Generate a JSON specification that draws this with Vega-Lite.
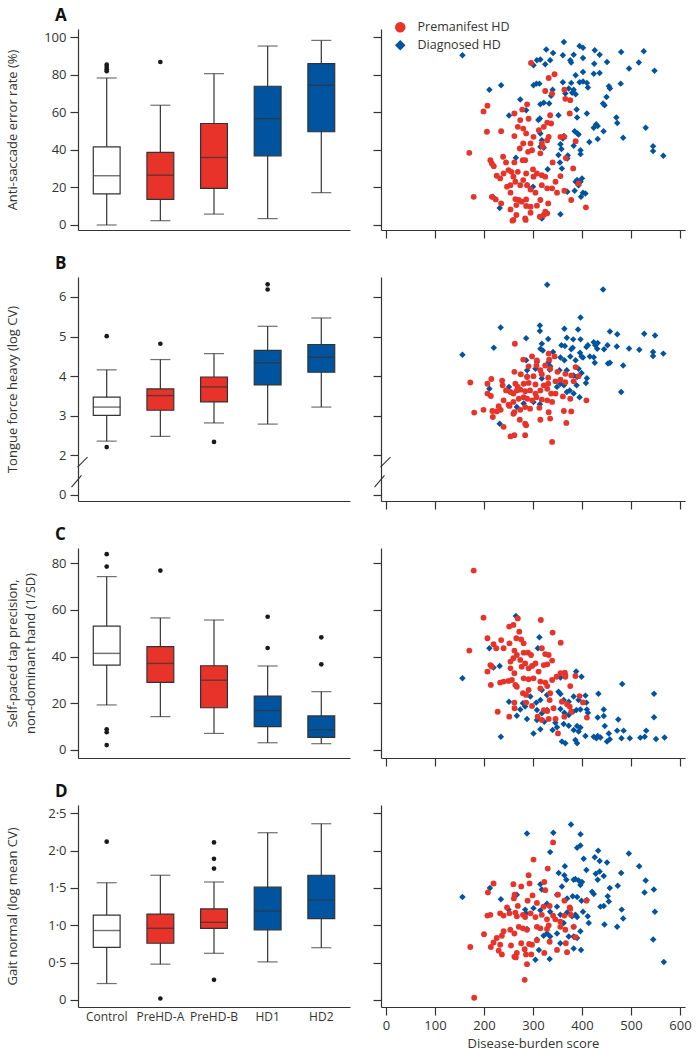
{
"$schema": "https://vega.github.io/schema/vega-lite/v6.json",
"padding": {"left": 5, "top": 7, "right": 5, "bottom": 4},
"bounds": "flush",
"align": "each",
"columns": 2,
"spacing": {"row": 47, "column": 31},
"datasets": {
"box": [
{"panel":"A","group":"Control","stage":"Control","lo":0,"q1":16.6,"med":26.2,"q3":41.6,"hi":78.2},
{"panel":"A","group":"PreHD-A","stage":"Premanifest","lo":2.3,"q1":13.6,"med":26.5,"q3":38.6,"hi":63.7},
{"panel":"A","group":"PreHD-B","stage":"Premanifest","lo":5.8,"q1":19.5,"med":35.9,"q3":54,"hi":80.5},
{"panel":"A","group":"HD1","stage":"Diagnosed","lo":3.4,"q1":36.8,"med":56.6,"q3":73.8,"hi":95.2},
{"panel":"A","group":"HD2","stage":"Diagnosed","lo":17.2,"q1":49.6,"med":74.3,"q3":85.8,"hi":98.2},
{"panel":"B","group":"Control","stage":"Control","lo":2.36,"q1":3.01,"med":3.22,"q3":3.47,"hi":4.16},
{"panel":"B","group":"PreHD-A","stage":"Premanifest","lo":2.48,"q1":3.14,"med":3.51,"q3":3.68,"hi":4.42},
{"panel":"B","group":"PreHD-B","stage":"Premanifest","lo":2.82,"q1":3.35,"med":3.73,"q3":3.98,"hi":4.57},
{"panel":"B","group":"HD1","stage":"Diagnosed","lo":2.79,"q1":3.78,"med":4.34,"q3":4.65,"hi":5.26},
{"panel":"B","group":"HD2","stage":"Diagnosed","lo":3.22,"q1":4.10,"med":4.48,"q3":4.80,"hi":5.47},
{"panel":"C","group":"Control","stage":"Control","lo":19.3,"q1":36.4,"med":41.4,"q3":53.1,"hi":74.3},
{"panel":"C","group":"PreHD-A","stage":"Premanifest","lo":14.3,"q1":29,"med":37.1,"q3":44.3,"hi":56.6},
{"panel":"C","group":"PreHD-B","stage":"Premanifest","lo":7.1,"q1":18.1,"med":29.9,"q3":36.1,"hi":55.7},
{"panel":"C","group":"HD1","stage":"Diagnosed","lo":3.1,"q1":10,"med":16.9,"q3":23.1,"hi":36},
{"panel":"C","group":"HD2","stage":"Diagnosed","lo":2.7,"q1":5.4,"med":8.6,"q3":14.6,"hi":25},
{"panel":"D","group":"Control","stage":"Control","lo":0.22,"q1":0.705,"med":0.93,"q3":1.135,"hi":1.57},
{"panel":"D","group":"PreHD-A","stage":"Premanifest","lo":0.48,"q1":0.76,"med":0.96,"q3":1.15,"hi":1.67},
{"panel":"D","group":"PreHD-B","stage":"Premanifest","lo":0.625,"q1":0.96,"med":1.04,"q3":1.22,"hi":1.58},
{"panel":"D","group":"HD1","stage":"Diagnosed","lo":0.51,"q1":0.94,"med":1.19,"q3":1.51,"hi":2.24},
{"panel":"D","group":"HD2","stage":"Diagnosed","lo":0.70,"q1":1.09,"med":1.34,"q3":1.67,"hi":2.36}
],
"out": [
{"panel":"A","group":"Control","value":85.3},{"panel":"A","group":"Control","value":84.1},{"panel":"A","group":"Control","value":82.8},{"panel":"A","group":"Control","value":81.8},{"panel":"A","group":"PreHD-A","value":86.7},
{"panel":"B","group":"Control","value":5.01},{"panel":"B","group":"Control","value":2.21},{"panel":"B","group":"PreHD-A","value":4.82},{"panel":"B","group":"PreHD-B","value":2.34},{"panel":"B","group":"HD1","value":6.32},{"panel":"B","group":"HD1","value":6.19},
{"panel":"C","group":"Control","value":83.9},{"panel":"C","group":"Control","value":78.6},{"panel":"C","group":"Control","value":8.9},{"panel":"C","group":"Control","value":7.6},{"panel":"C","group":"Control","value":2.1},{"panel":"C","group":"PreHD-A","value":76.9},{"panel":"C","group":"HD1","value":57.1},{"panel":"C","group":"HD1","value":43.7},{"panel":"C","group":"HD2","value":48.3},{"panel":"C","group":"HD2","value":36.7},
{"panel":"D","group":"Control","value":2.12},{"panel":"D","group":"PreHD-A","value":0.02},{"panel":"D","group":"PreHD-B","value":2.11},{"panel":"D","group":"PreHD-B","value":1.89},{"panel":"D","group":"PreHD-B","value":1.76},{"panel":"D","group":"PreHD-B","value":0.27}
],
"breaks": [
{"segment":"upper","y1":1.705,"y2":1.957},
{"segment":"lower","y1":1.20,"y2":1.495}
],
"A_pre": [
{"score":296,"value":86.2},{"score":344,"value":80.2},{"score":332,"value":78.2},{"score":325,"value":71.3},{"score":339,"value":69.9},{"score":364,"value":72},{"score":366,"value":67.1},{"score":376,"value":66.4},{"score":207,"value":63.5},{"score":199,"value":60.4},{"score":288,"value":64.2},{"score":278,"value":61.4},{"score":262,"value":59.3},{"score":291,"value":56.5},{"score":274,"value":55.8},{"score":335,"value":58.4},{"score":375,"value":59.3},{"score":269,"value":52.2},{"score":280,"value":51.3},{"score":322,"value":52.2},{"score":329,"value":54.5},{"score":337,"value":54},{"score":206,"value":49.6},{"score":235,"value":49.9},{"score":286,"value":48.7},{"score":312,"value":50.4},{"score":262,"value":47.3},{"score":301,"value":46.9},{"score":318,"value":43.4},{"score":332,"value":46.9},{"score":329,"value":45.1},{"score":280,"value":43.4},{"score":295,"value":43.4},{"score":356,"value":46.9},{"score":364,"value":46.9},{"score":387,"value":44.6},{"score":170,"value":38.4},{"score":273,"value":40.7},{"score":290,"value":38.9},{"score":298,"value":39.8},{"score":315,"value":38.1},{"score":320,"value":41.6},{"score":239,"value":36.3},{"score":213,"value":34.5},{"score":216,"value":32.7},{"score":220,"value":31.3},{"score":245,"value":33.3},{"score":262,"value":33.3},{"score":279,"value":34.5},{"score":284,"value":34.5},{"score":340,"value":33.3},{"score":367,"value":35.6},{"score":250,"value":29.2},{"score":256,"value":28.3},{"score":269,"value":28.3},{"score":286,"value":27.4},{"score":300,"value":29.6},{"score":308,"value":27.4},{"score":356,"value":26},{"score":382,"value":30.1},{"score":226,"value":26.2},{"score":233,"value":24.8},{"score":240,"value":27.4},{"score":260,"value":25.7},{"score":264,"value":23},{"score":280,"value":23.9},{"score":301,"value":25.7},{"score":318,"value":26.5},{"score":325,"value":25.7},{"score":346,"value":23},{"score":247,"value":20.4},{"score":254,"value":21.2},{"score":274,"value":21.2},{"score":288,"value":21.2},{"score":295,"value":18.9},{"score":305,"value":17.2},{"score":318,"value":21.2},{"score":329,"value":19.5},{"score":339,"value":19.5},{"score":349,"value":17.2},{"score":364,"value":18.2},{"score":393,"value":22.1},{"score":179,"value":15},{"score":216,"value":15},{"score":224,"value":13.6},{"score":254,"value":17.2},{"score":264,"value":13.8},{"score":271,"value":13.3},{"score":277,"value":12.4},{"score":286,"value":13.6},{"score":315,"value":13.3},{"score":331,"value":11.5},{"score":378,"value":13.3},{"score":235,"value":11.5},{"score":254,"value":8.3},{"score":266,"value":10.6},{"score":286,"value":10.1},{"score":295,"value":9.7},{"score":308,"value":10.3},{"score":325,"value":7.1},{"score":408,"value":9.4},{"score":266,"value":5.3},{"score":260,"value":2.7},{"score":284,"value":3.5},{"score":295,"value":6.5},{"score":314,"value":4.4},{"score":329,"value":6.2},{"score":258,"value":2.3},{"score":285,"value":2.7},{"score":322,"value":5.3}
],
"A_diag": [
{"score":156,"value":90.3},{"score":363,"value":97.3},{"score":395,"value":95.2},{"score":402,"value":94.3},{"score":327,"value":93.3},{"score":341,"value":91.5},{"score":361,"value":90.3},{"score":383,"value":90.6},{"score":426,"value":92.9},{"score":436,"value":90.6},{"score":480,"value":92},{"score":526,"value":92.4},{"score":308,"value":87.6},{"score":315,"value":88},{"score":301,"value":85},{"score":325,"value":85.5},{"score":335,"value":87.6},{"score":376,"value":87.6},{"score":378,"value":86.5},{"score":402,"value":88.8},{"score":425,"value":85.8},{"score":451,"value":86.7},{"score":516,"value":86.5},{"score":496,"value":83.2},{"score":548,"value":82.1},{"score":402,"value":81.4},{"score":387,"value":79.6},{"score":424,"value":80.5},{"score":436,"value":80.9},{"score":301,"value":74.3},{"score":307,"value":75.2},{"score":313,"value":75.2},{"score":361,"value":75.9},{"score":378,"value":75.6},{"score":395,"value":75.9},{"score":402,"value":76.3},{"score":410,"value":75.6},{"score":412,"value":73.1},{"score":479,"value":75.2},{"score":455,"value":73.8},{"score":457,"value":72.6},{"score":211,"value":72},{"score":235,"value":74.3},{"score":340,"value":72},{"score":366,"value":69.9},{"score":373,"value":72.6},{"score":383,"value":72},{"score":380,"value":70.3},{"score":387,"value":69.6},{"score":337,"value":68.8},{"score":274,"value":66.8},{"score":286,"value":61.1},{"score":315,"value":64.2},{"score":322,"value":65},{"score":333,"value":64.6},{"score":450,"value":68.1},{"score":443,"value":64.6},{"score":446,"value":63.7},{"score":251,"value":58.2},{"score":314,"value":56.6},{"score":311,"value":55.8},{"score":352,"value":58.4},{"score":389,"value":61.4},{"score":410,"value":59.3},{"score":390,"value":57.2},{"score":470,"value":57.2},{"score":472,"value":54.3},{"score":429,"value":53.6},{"score":432,"value":52.6},{"score":424,"value":51.7},{"score":444,"value":49.9},{"score":530,"value":51.7},{"score":315,"value":48.7},{"score":318,"value":45.1},{"score":363,"value":47.3},{"score":361,"value":46},{"score":385,"value":49.9},{"score":391,"value":48.7},{"score":393,"value":48.1},{"score":415,"value":44.2},{"score":432,"value":45.7},{"score":484,"value":46.4},{"score":315,"value":41.6},{"score":322,"value":41.1},{"score":356,"value":43},{"score":358,"value":40.4},{"score":383,"value":42.1},{"score":397,"value":39.8},{"score":397,"value":37.7},{"score":545,"value":41.9},{"score":545,"value":39.3},{"score":566,"value":36.8},{"score":265,"value":35.8},{"score":352,"value":37.2},{"score":355,"value":33.3},{"score":371,"value":37},{"score":370,"value":35.4},{"score":330,"value":29.6},{"score":359,"value":30.1},{"score":390,"value":23.9},{"score":400,"value":24.8},{"score":387,"value":23},{"score":397,"value":23},{"score":393,"value":21.2},{"score":288,"value":21.2},{"score":300,"value":20.4},{"score":370,"value":17.7},{"score":385,"value":18.2},{"score":402,"value":17.2},{"score":407,"value":16.8},{"score":398,"value":15},{"score":218,"value":15},{"score":232,"value":9},{"score":318,"value":3.5},{"score":356,"value":5.7}
],
"B_pre": [
{"score":263,"value":4.82},{"score":298,"value":4.50},{"score":280,"value":4.42},{"score":308,"value":4.40},{"score":332,"value":4.57},{"score":344,"value":4.50},{"score":333,"value":4.42},{"score":291,"value":4.25},{"score":307,"value":4.27},{"score":325,"value":4.27},{"score":335,"value":4.19},{"score":315,"value":4.15},{"score":387,"value":4.23},{"score":262,"value":4.11},{"score":275,"value":4.05},{"score":288,"value":3.98},{"score":301,"value":4.0},{"score":318,"value":4.05},{"score":331,"value":3.96},{"score":350,"value":4.11},{"score":366,"value":4.06},{"score":378,"value":4.02},{"score":393,"value":4.0},{"score":356,"value":3.91},{"score":172,"value":3.84},{"score":215,"value":3.93},{"score":207,"value":3.81},{"score":237,"value":3.89},{"score":238,"value":3.77},{"score":264,"value":3.81},{"score":269,"value":3.73},{"score":281,"value":3.81},{"score":291,"value":3.83},{"score":305,"value":3.79},{"score":322,"value":3.77},{"score":331,"value":3.81},{"score":346,"value":3.87},{"score":366,"value":3.85},{"score":383,"value":3.87},{"score":207,"value":3.56},{"score":214,"value":3.50},{"score":245,"value":3.64},{"score":254,"value":3.60},{"score":260,"value":3.56},{"score":267,"value":3.64},{"score":274,"value":3.66},{"score":284,"value":3.62},{"score":294,"value":3.64},{"score":305,"value":3.56},{"score":315,"value":3.64},{"score":329,"value":3.68},{"score":346,"value":3.56},{"score":337,"value":3.56},{"score":361,"value":3.49},{"score":376,"value":3.43},{"score":240,"value":3.39},{"score":250,"value":3.28},{"score":260,"value":3.35},{"score":271,"value":3.43},{"score":281,"value":3.47},{"score":288,"value":3.43},{"score":298,"value":3.39},{"score":307,"value":3.47},{"score":318,"value":3.41},{"score":329,"value":3.39},{"score":339,"value":3.35},{"score":409,"value":3.39},{"score":180,"value":3.08},{"score":199,"value":3.15},{"score":217,"value":3.12},{"score":226,"value":3.11},{"score":230,"value":3.24},{"score":234,"value":3.15},{"score":252,"value":3.25},{"score":262,"value":3.09},{"score":274,"value":3.15},{"score":284,"value":3.22},{"score":294,"value":3.18},{"score":313,"value":3.20},{"score":332,"value":3.09},{"score":363,"value":3.12},{"score":378,"value":3.11},{"score":218,"value":2.97},{"score":260,"value":3.05},{"score":273,"value":2.90},{"score":315,"value":2.90},{"score":335,"value":2.93},{"score":286,"value":2.76},{"score":284,"value":2.80},{"score":368,"value":2.82},{"score":240,"value":2.72},{"score":254,"value":2.48},{"score":262,"value":2.51},{"score":284,"value":2.51},{"score":339,"value":2.34}
],
"B_diag": [
{"score":329,"value":6.31},{"score":443,"value":6.19},{"score":397,"value":5.48},{"score":234,"value":5.23},{"score":314,"value":5.28},{"score":314,"value":5.14},{"score":364,"value":5.2},{"score":392,"value":5.18},{"score":457,"value":5.13},{"score":472,"value":5.06},{"score":527,"value":5.07},{"score":549,"value":5.03},{"score":286,"value":4.96},{"score":331,"value":4.94},{"score":369,"value":4.97},{"score":382,"value":4.93},{"score":397,"value":4.93},{"score":220,"value":4.72},{"score":156,"value":4.54},{"score":318,"value":4.82},{"score":315,"value":4.69},{"score":320,"value":4.65},{"score":341,"value":4.61},{"score":358,"value":4.78},{"score":365,"value":4.76},{"score":378,"value":4.68},{"score":381,"value":4.72},{"score":396,"value":4.59},{"score":399,"value":4.50},{"score":409,"value":4.74},{"score":412,"value":4.78},{"score":424,"value":4.86},{"score":427,"value":4.78},{"score":432,"value":4.84},{"score":431,"value":4.69},{"score":445,"value":4.68},{"score":452,"value":4.78},{"score":471,"value":4.75},{"score":496,"value":4.70},{"score":517,"value":4.67},{"score":545,"value":4.61},{"score":545,"value":4.51},{"score":566,"value":4.57},{"score":286,"value":4.40},{"score":308,"value":4.36},{"score":332,"value":4.36},{"score":356,"value":4.47},{"score":364,"value":4.40},{"score":376,"value":4.50},{"score":387,"value":4.40},{"score":402,"value":4.47},{"score":416,"value":4.50},{"score":424,"value":4.48},{"score":426,"value":4.34},{"score":453,"value":4.32},{"score":457,"value":4.34},{"score":484,"value":4.27},{"score":288,"value":4.15},{"score":305,"value":4.19},{"score":335,"value":4.25},{"score":334,"value":4.16},{"score":354,"value":4.15},{"score":369,"value":4.15},{"score":393,"value":4.19},{"score":399,"value":4.08},{"score":288,"value":4.0},{"score":318,"value":3.94},{"score":383,"value":4.02},{"score":390,"value":3.98},{"score":410,"value":3.95},{"score":211,"value":3.68},{"score":251,"value":3.73},{"score":356,"value":3.81},{"score":363,"value":3.77},{"score":369,"value":3.60},{"score":375,"value":3.64},{"score":389,"value":3.77},{"score":408,"value":3.83},{"score":349,"value":3.73},{"score":480,"value":3.60},{"score":267,"value":3.22},{"score":281,"value":3.31},{"score":301,"value":3.35},{"score":314,"value":3.29},{"score":395,"value":3.47},{"score":383,"value":3.56},{"score":232,"value":2.80}
],
"C_pre": [
{"score":179,"value":76.9},{"score":199,"value":56.7},{"score":269,"value":56.4},{"score":316,"value":55.7},{"score":170,"value":42.6},{"score":251.5,"value":52.9},{"score":260,"value":53.6},{"score":272,"value":50.7},{"score":340,"value":50.3},{"score":356.5,"value":46},{"score":207,"value":47.9},{"score":219.5,"value":45.3},{"score":225,"value":43.6},{"score":235,"value":47.1},{"score":240,"value":43.6},{"score":252,"value":45.7},{"score":266,"value":47.9},{"score":276,"value":47.4},{"score":281,"value":45.7},{"score":262,"value":42.6},{"score":267,"value":40.7},{"score":281,"value":41.7},{"score":290,"value":41.7},{"score":296,"value":40.7},{"score":318,"value":43.6},{"score":325,"value":41.1},{"score":332,"value":40.7},{"score":339,"value":38.3},{"score":213,"value":36.4},{"score":216,"value":35.7},{"score":207,"value":33.6},{"score":254,"value":37.9},{"score":260,"value":39.3},{"score":254,"value":35},{"score":262,"value":32.9},{"score":274,"value":38.6},{"score":277,"value":35.7},{"score":284,"value":37.1},{"score":291,"value":35},{"score":298,"value":36},{"score":305,"value":37.1},{"score":311.5,"value":33.6},{"score":322,"value":36.4},{"score":329,"value":36.7},{"score":339,"value":30},{"score":348,"value":31.4},{"score":365,"value":33.1},{"score":366,"value":32.1},{"score":214,"value":27.9},{"score":233,"value":28.9},{"score":240,"value":29.3},{"score":250,"value":29.6},{"score":257,"value":30},{"score":264,"value":27.9},{"score":267,"value":27.1},{"score":281,"value":30.7},{"score":291,"value":30.3},{"score":301,"value":30.7},{"score":315,"value":29.3},{"score":325,"value":28.9},{"score":329,"value":27.4},{"score":356,"value":32.9},{"score":366,"value":31.4},{"score":376,"value":27.4},{"score":386.5,"value":31.7},{"score":279.5,"value":24.3},{"score":286,"value":23.6},{"score":291,"value":25.7},{"score":315,"value":26.4},{"score":335,"value":24.3},{"score":286,"value":20.3},{"score":298,"value":18.9},{"score":334,"value":21.4},{"score":359,"value":20.7},{"score":369.5,"value":19.6},{"score":375,"value":18.6},{"score":378,"value":16.4},{"score":395,"value":23.1},{"score":402,"value":20.4},{"score":228,"value":16.4},{"score":251.5,"value":14.3},{"score":262,"value":20.3},{"score":262.4,"value":17.9},{"score":322,"value":17.1},{"score":329,"value":16.7},{"score":342,"value":17.9},{"score":309.5,"value":14.3},{"score":318,"value":12.9},{"score":332,"value":13.3},{"score":346,"value":13.3},{"score":364,"value":14.3},{"score":410,"value":13.9},{"score":351,"value":7.1}
],
"C_diag": [
{"score":265,"value":57.4},{"score":313,"value":48.3},{"score":310,"value":43.6},{"score":211,"value":43.6},{"score":219.5,"value":35.3},{"score":232,"value":36},{"score":156,"value":30.7},{"score":303,"value":36.7},{"score":356,"value":31.1},{"score":388,"value":33.6},{"score":399,"value":31.4},{"score":482,"value":28.3},{"score":547,"value":24.1},{"score":433.5,"value":24.1},{"score":407,"value":23.3},{"score":318,"value":25.7},{"score":328.6,"value":23.6},{"score":352,"value":25},{"score":356,"value":24},{"score":362.6,"value":21.4},{"score":373,"value":20.7},{"score":383,"value":22.9},{"score":393,"value":21.4},{"score":409,"value":20.3},{"score":294.5,"value":22.9},{"score":306.7,"value":20.3},{"score":315,"value":21.4},{"score":251,"value":20.7},{"score":279.5,"value":20},{"score":284,"value":18.6},{"score":274,"value":17.4},{"score":308,"value":17.1},{"score":318,"value":15.7},{"score":328.6,"value":17.1},{"score":356,"value":17.6},{"score":364,"value":16},{"score":373,"value":15},{"score":381.7,"value":16.4},{"score":388.5,"value":17.1},{"score":396.7,"value":17.4},{"score":410,"value":17.4},{"score":412,"value":16},{"score":432,"value":13.9},{"score":444.4,"value":17.4},{"score":444.4,"value":14.6},{"score":474,"value":13.1},{"score":547,"value":14},{"score":267,"value":14.7},{"score":287.7,"value":13.3},{"score":308,"value":12.9},{"score":323,"value":12.1},{"score":345.6,"value":11.7},{"score":362.6,"value":11.1},{"score":373,"value":10.4},{"score":390,"value":10.3},{"score":396.7,"value":9.6},{"score":383,"value":8.6},{"score":393,"value":7.9},{"score":407,"value":6},{"score":432,"value":6},{"score":437.6,"value":5.4},{"score":446.5,"value":10.3},{"score":454.7,"value":7.1},{"score":471.7,"value":8.3},{"score":485,"value":8.3},{"score":531,"value":8.3},{"score":234.5,"value":5.7},{"score":301,"value":7.1},{"score":315,"value":8.9},{"score":340,"value":8.6},{"score":349,"value":9.7},{"score":359,"value":3.6},{"score":366,"value":2.9},{"score":386.5,"value":4.3},{"score":390,"value":2.9},{"score":424,"value":5.7},{"score":429.4,"value":5},{"score":451,"value":3.6},{"score":456.7,"value":4.6},{"score":480.6,"value":5},{"score":497.6,"value":5},{"score":519,"value":5.3},{"score":528,"value":5.7},{"score":551,"value":4.7},{"score":568.5,"value":5.4}
],
"D_pre": [
{"score":341,"value":2.11},{"score":301,"value":1.88},{"score":330,"value":1.76},{"score":291,"value":1.67},{"score":293,"value":1.56},{"score":219.5,"value":1.56},{"score":208,"value":1.44},{"score":260,"value":1.55},{"score":276,"value":1.52},{"score":323,"value":1.58},{"score":325,"value":1.47},{"score":299,"value":1.40},{"score":351,"value":1.41},{"score":409,"value":1.33},{"score":247,"value":1.24},{"score":262.4,"value":1.41},{"score":261,"value":1.36},{"score":269,"value":1.26},{"score":289,"value":1.33},{"score":308,"value":1.30},{"score":321.7,"value":1.25},{"score":334,"value":1.26},{"score":364,"value":1.33},{"score":375,"value":1.24},{"score":376,"value":1.22},{"score":207,"value":1.13},{"score":213,"value":1.14},{"score":233,"value":1.16},{"score":240,"value":1.13},{"score":252,"value":1.16},{"score":264,"value":1.17},{"score":267,"value":1.12},{"score":279.5,"value":1.14},{"score":284,"value":1.11},{"score":295,"value":1.16},{"score":305,"value":1.11},{"score":318,"value":1.14},{"score":328.6,"value":1.08},{"score":341,"value":1.13},{"score":345.6,"value":1.08},{"score":355.8,"value":1.05},{"score":364,"value":1.13},{"score":377.6,"value":1.14},{"score":200,"value":0.88},{"score":226,"value":0.83},{"score":236.5,"value":0.86},{"score":240,"value":0.92},{"score":253.6,"value":0.94},{"score":262,"value":0.89},{"score":271,"value":0.98},{"score":279.5,"value":0.96},{"score":287.7,"value":0.94},{"score":308,"value":0.98},{"score":315,"value":0.96},{"score":328.6,"value":0.95},{"score":332,"value":1.0},{"score":355.8,"value":0.98},{"score":366,"value":0.94},{"score":383,"value":0.98},{"score":214,"value":0.71},{"score":219.5,"value":0.77},{"score":233,"value":0.74},{"score":230,"value":0.66},{"score":236.5,"value":0.61},{"score":255,"value":0.73},{"score":262,"value":0.58},{"score":267,"value":0.63},{"score":276,"value":0.76},{"score":283,"value":0.68},{"score":292,"value":0.75},{"score":298,"value":0.74},{"score":308,"value":0.80},{"score":323,"value":0.63},{"score":334,"value":0.78},{"score":349,"value":0.67},{"score":367,"value":0.76},{"score":369.5,"value":0.64},{"score":386.5,"value":0.84},{"score":172,"value":0.71},{"score":265,"value":0.57},{"score":285.6,"value":0.61},{"score":296.5,"value":0.61},{"score":287.7,"value":0.48},{"score":283,"value":0.27},{"score":180,"value":0.03}
],
"D_diag": [
{"score":377.6,"value":2.35},{"score":287.7,"value":2.23},{"score":341.5,"value":2.24},{"score":397,"value":2.22},{"score":396.7,"value":2.07},{"score":390,"value":2.04},{"score":335,"value":1.98},{"score":495.6,"value":1.96},{"score":433,"value":2.0},{"score":426,"value":1.91},{"score":436,"value":1.86},{"score":451,"value":1.84},{"score":403.5,"value":1.89},{"score":365,"value":1.79},{"score":516.7,"value":1.79},{"score":212,"value":1.50},{"score":156,"value":1.38},{"score":234.5,"value":1.35},{"score":250,"value":1.21},{"score":267,"value":1.41},{"score":315,"value":1.55},{"score":318,"value":1.48},{"score":352.4,"value":1.70},{"score":364,"value":1.67},{"score":368,"value":1.61},{"score":383,"value":1.61},{"score":386.5,"value":1.62},{"score":393,"value":1.60},{"score":400,"value":1.58},{"score":396.7,"value":1.54},{"score":409,"value":1.74},{"score":428,"value":1.69},{"score":432,"value":1.61},{"score":436,"value":1.72},{"score":444.4,"value":1.66},{"score":456.7,"value":1.50},{"score":480,"value":1.70},{"score":473,"value":1.53},{"score":530,"value":1.60},{"score":527.6,"value":1.44},{"score":546.7,"value":1.48},{"score":349,"value":1.41},{"score":359,"value":1.52},{"score":369.5,"value":1.36},{"score":381,"value":1.39},{"score":390,"value":1.38},{"score":399,"value":1.33},{"score":410,"value":1.34},{"score":420.6,"value":1.45},{"score":424,"value":1.42},{"score":452.5,"value":1.39},{"score":454.7,"value":1.32},{"score":437.6,"value":1.25},{"score":444.4,"value":1.26},{"score":481,"value":1.21},{"score":484,"value":1.09},{"score":548.7,"value":1.18},{"score":284,"value":1.21},{"score":286,"value":1.16},{"score":301,"value":1.23},{"score":315,"value":1.20},{"score":328.6,"value":1.29},{"score":335,"value":1.18},{"score":349,"value":1.25},{"score":355.8,"value":1.14},{"score":362.6,"value":1.03},{"score":369.5,"value":1.17},{"score":379.7,"value":1.12},{"score":386.5,"value":1.14},{"score":390,"value":1.11},{"score":402,"value":1.18},{"score":411.7,"value":1.12},{"score":413.8,"value":1.03},{"score":445.8,"value":1.01},{"score":471.7,"value":0.98},{"score":383,"value":0.98},{"score":396.7,"value":0.92},{"score":287.7,"value":0.95},{"score":308,"value":0.81},{"score":321.7,"value":0.86},{"score":328.6,"value":0.89},{"score":335,"value":0.85},{"score":349,"value":0.89},{"score":355.8,"value":0.76},{"score":373,"value":0.85},{"score":383,"value":0.85},{"score":390,"value":0.83},{"score":398,"value":0.67},{"score":383,"value":0.69},{"score":312,"value":0.67},{"score":305,"value":0.54},{"score":334,"value":0.55},{"score":545.3,"value":0.81},{"score":567,"value":0.51}
]
},
"concat": [
{
"width": 272, "height": 201,
"title": {"text": "A"},
"data": {"name": "box"},
"transform": [{"filter": "datum.panel === 'A'"}],
"encoding": {"x": {"field": "group", "type": "nominal", "scale": {"domain": ["Control","PreHD-A","PreHD-B","HD1","HD2"], "paddingInner": 0.5, "paddingOuter": 0.285}, "axis": {"labels": false, "ticks": false, "tickSize": 0, "title": null}}},
"layer": [
{"mark": {"type": "rule", "color": "#333", "strokeWidth": 1.2}, "encoding": {"y": {"field": "lo", "type": "quantitative", "scale": {"domain": [-2.66, 104.26], "nice": false, "zero": false}, "axis": {"title": "Anti-saccade error rate (%)", "values": [0,20,40,60,80,100], "titleX": -59, "titleBaseline": "bottom"}}, "y2": {"field": "hi"}}},
{"mark": {"type": "tick", "color": "#333", "size": 20, "thickness": 1.2}, "encoding": {"y": {"field": "lo", "type": "quantitative"}}},
{"mark": {"type": "tick", "color": "#333", "size": 20, "thickness": 1.2}, "encoding": {"y": {"field": "hi", "type": "quantitative"}}},
{"mark": {"type": "bar", "stroke": "#333", "strokeWidth": 1.2}, "encoding": {"y": {"field": "q1", "type": "quantitative"}, "y2": {"field": "q3"}, "fill": {"field": "stage", "type": "nominal", "scale": {"domain": ["Control","Premanifest","Diagnosed"], "range": ["#ffffff","#E8332A","#00549F"]}, "legend": null}}},
{"mark": {"type": "tick", "color": "#333", "size": 27, "thickness": 1.4}, "encoding": {"y": {"field": "med", "type": "quantitative"}}},
{"data": {"name": "out"}, "transform": [{"filter": "datum.panel === 'A'"}], "mark": {"type": "point", "filled": true, "color": "#1a1a1a", "size": 22, "opacity": 1}, "encoding": {"y": {"field": "value", "type": "quantitative"}}}
]
},
{
"width": 304, "height": 201,
"encoding": {
"x": {"field": "score", "type": "quantitative", "scale": {"domain": [-10.2, 610.2], "nice": false, "zero": false}, "axis": {"values": [0,100,200,300,400,500,600], "labels": false, "title": null}},
"y": {"field": "value", "type": "quantitative", "scale": {"domain": [-2.66, 104.26], "nice": false, "zero": false}, "axis": {"values": [0,20,40,60,80,100], "labels": false, "title": null}}
},
"layer": [
{"data": {"name": "A_diag"}, "mark": {"type": "point", "filled": true, "size": 42, "opacity": 1}, "encoding": {"color": {"datum": "Diagnosed HD", "type": "nominal", "scale": {"domain": ["Premanifest HD","Diagnosed HD"], "range": ["#E8332A","#00549F"]}, "legend": {"title": null}}, "shape": {"datum": "Diagnosed HD", "type": "nominal", "scale": {"domain": ["Premanifest HD","Diagnosed HD"], "range": ["circle","diamond"]}, "legend": {"title": null}}}},
{"data": {"name": "A_pre"}, "mark": {"type": "point", "filled": true, "size": 34, "opacity": 1}, "encoding": {"color": {"datum": "Premanifest HD", "type": "nominal"}, "shape": {"datum": "Premanifest HD", "type": "nominal"}}}
]
},
{
"width": 272, "height": 224,
"title": {"text": "B"},
"data": {"name": "box"},
"transform": [{"filter": "datum.panel === 'B'"}],
"encoding": {"x": {"field": "group", "type": "nominal", "scale": {"domain": ["Control","PreHD-A","PreHD-B","HD1","HD2"], "paddingInner": 0.5, "paddingOuter": 0.285}, "axis": {"labels": false, "ticks": false, "tickSize": 0, "title": null}}},
"layer": [
{"mark": {"type": "rule", "color": "#333", "strokeWidth": 1.2}, "encoding": {"y": {"field": "lo", "type": "quantitative", "scale": {"domain": [0.848, 6.505], "nice": false, "zero": false}, "axis": {"title": "Tongue force heavy (log CV)", "values": [1,2,3,4,5,6], "labelExpr": "datum.value === 1 ? '0' : datum.label", "titleX": -59, "titleBaseline": "bottom"}}, "y2": {"field": "hi"}}},
{"mark": {"type": "tick", "color": "#333", "size": 20, "thickness": 1.2}, "encoding": {"y": {"field": "lo", "type": "quantitative"}}},
{"mark": {"type": "tick", "color": "#333", "size": 20, "thickness": 1.2}, "encoding": {"y": {"field": "hi", "type": "quantitative"}}},
{"mark": {"type": "bar", "stroke": "#333", "strokeWidth": 1.2}, "encoding": {"y": {"field": "q1", "type": "quantitative"}, "y2": {"field": "q3"}, "fill": {"field": "stage", "type": "nominal", "legend": null}}},
{"mark": {"type": "tick", "color": "#333", "size": 27, "thickness": 1.4}, "encoding": {"y": {"field": "med", "type": "quantitative"}}},
{"data": {"name": "out"}, "transform": [{"filter": "datum.panel === 'B'"}], "mark": {"type": "point", "filled": true, "color": "#1a1a1a", "size": 22, "opacity": 1}, "encoding": {"y": {"field": "value", "type": "quantitative"}}},
{"data": {"name": "breaks"}, "transform": [{"filter": "datum.segment === 'upper'"}], "mark": {"type": "rule", "color": "#333", "strokeWidth": 1.1}, "encoding": {"x": {"value": -0.5}, "x2": {"value": 9.5}, "y": {"field": "y1", "type": "quantitative"}, "y2": {"field": "y2"}}},
{"data": {"name": "breaks"}, "transform": [{"filter": "datum.segment === 'lower'"}], "mark": {"type": "rule", "color": "#333", "strokeWidth": 1.1}, "encoding": {"x": {"value": -6.5}, "x2": {"value": 3.5}, "y": {"field": "y1", "type": "quantitative"}, "y2": {"field": "y2"}}}
]
},
{
"width": 304, "height": 224,
"encoding": {
"x": {"field": "score", "type": "quantitative", "scale": {"domain": [-10.2, 610.2], "nice": false, "zero": false}, "axis": {"values": [0,100,200,300,400,500,600], "labels": false, "title": null}},
"y": {"field": "value", "type": "quantitative", "scale": {"domain": [0.848, 6.505], "nice": false, "zero": false}, "axis": {"values": [1,2,3,4,5,6], "labels": false, "title": null}}
},
"layer": [
{"data": {"name": "B_diag"}, "mark": {"type": "point", "filled": true, "size": 42, "opacity": 1}, "encoding": {"color": {"datum": "Diagnosed HD", "type": "nominal"}, "shape": {"datum": "Diagnosed HD", "type": "nominal"}}},
{"data": {"name": "B_pre"}, "mark": {"type": "point", "filled": true, "size": 34, "opacity": 1}, "encoding": {"color": {"datum": "Premanifest HD", "type": "nominal"}, "shape": {"datum": "Premanifest HD", "type": "nominal"}}},
{"data": {"name": "breaks"}, "transform": [{"filter": "datum.segment === 'upper'"}], "mark": {"type": "rule", "color": "#333", "strokeWidth": 1.1}, "encoding": {"x": {"value": -0.5}, "x2": {"value": 9.5}, "y": {"field": "y1", "type": "quantitative"}, "y2": {"field": "y2"}}},
{"data": {"name": "breaks"}, "transform": [{"filter": "datum.segment === 'lower'"}], "mark": {"type": "rule", "color": "#333", "strokeWidth": 1.1}, "encoding": {"x": {"value": -6.5}, "x2": {"value": 3.5}, "y": {"field": "y1", "type": "quantitative"}, "y2": {"field": "y2"}}}
]
},
{
"width": 272, "height": 210,
"title": {"text": "C"},
"data": {"name": "box"},
"transform": [{"filter": "datum.panel === 'C'"}],
"encoding": {"x": {"field": "group", "type": "nominal", "scale": {"domain": ["Control","PreHD-A","PreHD-B","HD1","HD2"], "paddingInner": 0.5, "paddingOuter": 0.285}, "axis": {"labels": false, "ticks": false, "tickSize": 0, "title": null}}},
"layer": [
{"mark": {"type": "rule", "color": "#333", "strokeWidth": 1.2}, "encoding": {"y": {"field": "lo", "type": "quantitative", "scale": {"domain": [-3.43, 86.56], "nice": false, "zero": false}, "axis": {"title": ["Self-paced tap precision,", "non-dominant hand (1/SD)"], "values": [0,20,40,60,80], "titleX": -59, "titleBaseline": "bottom", "titleLineHeight": 18}}, "y2": {"field": "hi"}}},
{"mark": {"type": "tick", "color": "#333", "size": 20, "thickness": 1.2}, "encoding": {"y": {"field": "lo", "type": "quantitative"}}},
{"mark": {"type": "tick", "color": "#333", "size": 20, "thickness": 1.2}, "encoding": {"y": {"field": "hi", "type": "quantitative"}}},
{"mark": {"type": "bar", "stroke": "#333", "strokeWidth": 1.2}, "encoding": {"y": {"field": "q1", "type": "quantitative"}, "y2": {"field": "q3"}, "fill": {"field": "stage", "type": "nominal", "legend": null}}},
{"mark": {"type": "tick", "color": "#333", "size": 27, "thickness": 1.4}, "encoding": {"y": {"field": "med", "type": "quantitative"}}},
{"data": {"name": "out"}, "transform": [{"filter": "datum.panel === 'C'"}], "mark": {"type": "point", "filled": true, "color": "#1a1a1a", "size": 22, "opacity": 1}, "encoding": {"y": {"field": "value", "type": "quantitative"}}}
]
},
{
"width": 304, "height": 210,
"encoding": {
"x": {"field": "score", "type": "quantitative", "scale": {"domain": [-10.2, 610.2], "nice": false, "zero": false}, "axis": {"values": [0,100,200,300,400,500,600], "labels": false, "title": null}},
"y": {"field": "value", "type": "quantitative", "scale": {"domain": [-3.43, 86.56], "nice": false, "zero": false}, "axis": {"values": [0,20,40,60,80], "labels": false, "title": null}}
},
"layer": [
{"data": {"name": "C_diag"}, "mark": {"type": "point", "filled": true, "size": 42, "opacity": 1}, "encoding": {"color": {"datum": "Diagnosed HD", "type": "nominal"}, "shape": {"datum": "Diagnosed HD", "type": "nominal"}}},
{"data": {"name": "C_pre"}, "mark": {"type": "point", "filled": true, "size": 34, "opacity": 1}, "encoding": {"color": {"datum": "Premanifest HD", "type": "nominal"}, "shape": {"datum": "Premanifest HD", "type": "nominal"}}}
]
},
{
"width": 272, "height": 202,
"title": {"text": "D"},
"data": {"name": "box"},
"transform": [{"filter": "datum.panel === 'D'"}],
"encoding": {"x": {"field": "group", "type": "nominal", "scale": {"domain": ["Control","PreHD-A","PreHD-B","HD1","HD2"], "paddingInner": 0.5, "paddingOuter": 0.285}, "axis": {"labels": true, "labelAngle": 0, "labelFontSize": 12, "ticks": false, "tickSize": 0, "labelPadding": 4, "title": null}}},
"layer": [
{"mark": {"type": "rule", "color": "#333", "strokeWidth": 1.2}, "encoding": {"y": {"field": "lo", "type": "quantitative", "scale": {"domain": [-0.094, 2.611], "nice": false, "zero": false}, "axis": {"title": "Gait normal (log mean CV)", "values": [0,0.5,1,1.5,2,2.5], "labelExpr": "datum.value === 0 ? '0' : replace(format(datum.value, '.1f'), '.', '·')", "titleX": -59, "titleBaseline": "bottom"}}, "y2": {"field": "hi"}}},
{"mark": {"type": "tick", "color": "#333", "size": 20, "thickness": 1.2}, "encoding": {"y": {"field": "lo", "type": "quantitative"}}},
{"mark": {"type": "tick", "color": "#333", "size": 20, "thickness": 1.2}, "encoding": {"y": {"field": "hi", "type": "quantitative"}}},
{"mark": {"type": "bar", "stroke": "#333", "strokeWidth": 1.2}, "encoding": {"y": {"field": "q1", "type": "quantitative"}, "y2": {"field": "q3"}, "fill": {"field": "stage", "type": "nominal", "legend": null}}},
{"mark": {"type": "tick", "color": "#333", "size": 27, "thickness": 1.4}, "encoding": {"y": {"field": "med", "type": "quantitative"}}},
{"data": {"name": "out"}, "transform": [{"filter": "datum.panel === 'D'"}], "mark": {"type": "point", "filled": true, "color": "#1a1a1a", "size": 22, "opacity": 1}, "encoding": {"y": {"field": "value", "type": "quantitative"}}}
]
},
{
"width": 304, "height": 202,
"encoding": {
"x": {"field": "score", "type": "quantitative", "scale": {"domain": [-10.2, 610.2], "nice": false, "zero": false}, "axis": {"values": [0,100,200,300,400,500,600], "labels": true, "labelPadding": 4, "title": "Disease-burden score", "titlePadding": 5}},
"y": {"field": "value", "type": "quantitative", "scale": {"domain": [-0.094, 2.611], "nice": false, "zero": false}, "axis": {"values": [0,0.5,1,1.5,2,2.5], "labels": false, "title": null}}
},
"layer": [
{"data": {"name": "D_diag"}, "mark": {"type": "point", "filled": true, "size": 42, "opacity": 1}, "encoding": {"color": {"datum": "Diagnosed HD", "type": "nominal"}, "shape": {"datum": "Diagnosed HD", "type": "nominal"}}},
{"data": {"name": "D_pre"}, "mark": {"type": "point", "filled": true, "size": 34, "opacity": 1}, "encoding": {"color": {"datum": "Premanifest HD", "type": "nominal"}, "shape": {"datum": "Premanifest HD", "type": "nominal"}}}
]
}
],
"config": {
"view": {"stroke": null},
"font": "Open Sans",
"axis": {"grid": false, "domainColor": "#333", "domainWidth": 1.2, "tickColor": "#333", "tickWidth": 1.2, "tickSize": 8, "labelFont": "Open Sans", "labelFontSize": 13, "labelColor": "#333", "labelPadding": 4, "titleFont": "Open Sans", "titleFontSize": 13, "titleFontWeight": "normal", "titleColor": "#333"},
"legend": {"orient": "none", "legendX": 316, "legendY": -8, "labelFont": "Open Sans", "labelFontSize": 12.5, "labelColor": "#333", "symbolSize": 110, "rowPadding": 5, "labelOffset": 11, "symbolStrokeWidth": 0},
"title": {"fontSize": 17, "fontWeight": "bold", "font": "Open Sans", "anchor": "start", "frame": "group", "dx": -23, "offset": 4, "baseline": "alphabetic", "color": "#111"}
}
}
